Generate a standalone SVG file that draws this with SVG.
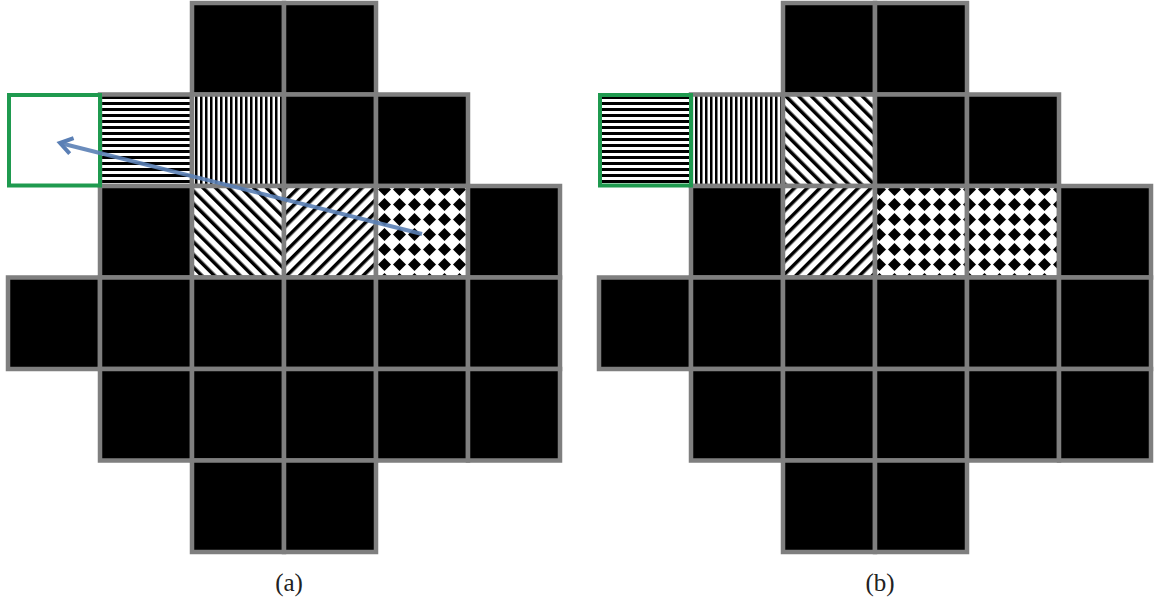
<svg xmlns="http://www.w3.org/2000/svg" width="1155" height="604" viewBox="0 0 1155 604">
<style>
.c{stroke:#7f7f7f;stroke-width:4.5}
.k{fill:#000}
.g{stroke:#1f9a4f;stroke-width:4}
.lbl{font-family:"Liberation Serif",serif;font-size:25px;fill:#222;text-anchor:middle}
</style>
<defs>
<pattern id="ph" patternUnits="userSpaceOnUse" width="6" height="6"><rect width="6" height="6" fill="#fff"/><rect width="6" height="3" fill="#000"/></pattern>
<pattern id="pv" patternUnits="userSpaceOnUse" width="5" height="5"><rect width="5" height="5" fill="#fff"/><rect width="2.5" height="5" fill="#000"/></pattern>
<pattern id="pb" patternUnits="userSpaceOnUse" width="9" height="9" patternTransform="rotate(-45)"><rect width="9" height="9" fill="#fff"/><rect width="3.5" height="9" fill="#000"/></pattern>
<pattern id="pf" patternUnits="userSpaceOnUse" width="9" height="9" patternTransform="rotate(45)"><rect width="9" height="9" fill="#fff"/><rect width="3.5" height="9" fill="#000"/></pattern>
<pattern id="pd" patternUnits="userSpaceOnUse" width="15" height="15" x="2" y="2"><rect width="15" height="15" fill="#fff"/><polygon points="7.5,1 14,7.5 7.5,14 1,7.5" fill="#000"/></pattern>
<marker id="ah" markerUnits="userSpaceOnUse" markerWidth="24" markerHeight="24" refX="18" refY="12" orient="auto"><path d="M6,4 L18,12 L6,20" fill="none" stroke="#5a7fb5" stroke-width="4"/></marker>
</defs>
<g id="gridA">
<rect class="c k" x="192" y="3" width="92" height="91.5"/>
<rect class="c k" x="284" y="3" width="92" height="91.5"/>
<rect class="c" fill="url(#ph)" x="100" y="94.5" width="92" height="91.5"/>
<rect class="c" fill="url(#pv)" x="192" y="94.5" width="92" height="91.5"/>
<rect class="c k" x="284" y="94.5" width="92" height="91.5"/>
<rect class="c k" x="376" y="94.5" width="92" height="91.5"/>
<rect class="c k" x="100" y="186" width="92" height="91.5"/>
<rect class="c" fill="url(#pb)" x="192" y="186" width="92" height="91.5"/>
<rect class="c" fill="url(#pf)" x="284" y="186" width="92" height="91.5"/>
<rect class="c" fill="url(#pd)" x="376" y="186" width="92" height="91.5"/>
<rect class="c k" x="468" y="186" width="92" height="91.5"/>
<rect class="c k" x="8" y="277.5" width="92" height="91.5"/>
<rect class="c k" x="100" y="277.5" width="92" height="91.5"/>
<rect class="c k" x="192" y="277.5" width="92" height="91.5"/>
<rect class="c k" x="284" y="277.5" width="92" height="91.5"/>
<rect class="c k" x="376" y="277.5" width="92" height="91.5"/>
<rect class="c k" x="468" y="277.5" width="92" height="91.5"/>
<rect class="c k" x="100" y="369" width="92" height="91.5"/>
<rect class="c k" x="192" y="369" width="92" height="91.5"/>
<rect class="c k" x="284" y="369" width="92" height="91.5"/>
<rect class="c k" x="376" y="369" width="92" height="91.5"/>
<rect class="c k" x="468" y="369" width="92" height="91.5"/>
<rect class="c k" x="192" y="460.5" width="92" height="91.5"/>
<rect class="c k" x="284" y="460.5" width="92" height="91.5"/>
<rect class="g" fill="#fff" x="9" y="95" width="91" height="90.5"/>
</g>
<g id="gridB">
<rect class="c k" x="783" y="3" width="92" height="91.5"/>
<rect class="c k" x="875" y="3" width="92" height="91.5"/>
<rect class="c" fill="url(#pv)" x="691" y="94.5" width="92" height="91.5"/>
<rect class="c" fill="url(#pb)" x="783" y="94.5" width="92" height="91.5"/>
<rect class="c k" x="875" y="94.5" width="92" height="91.5"/>
<rect class="c k" x="967" y="94.5" width="92" height="91.5"/>
<rect class="c k" x="691" y="186" width="92" height="91.5"/>
<rect class="c" fill="url(#pf)" x="783" y="186" width="92" height="91.5"/>
<rect class="c" fill="url(#pd)" x="875" y="186" width="92" height="91.5"/>
<rect class="c" fill="url(#pd)" x="967" y="186" width="92" height="91.5"/>
<rect class="c k" x="1059" y="186" width="92" height="91.5"/>
<rect class="c k" x="599" y="277.5" width="92" height="91.5"/>
<rect class="c k" x="691" y="277.5" width="92" height="91.5"/>
<rect class="c k" x="783" y="277.5" width="92" height="91.5"/>
<rect class="c k" x="875" y="277.5" width="92" height="91.5"/>
<rect class="c k" x="967" y="277.5" width="92" height="91.5"/>
<rect class="c k" x="1059" y="277.5" width="92" height="91.5"/>
<rect class="c k" x="691" y="369" width="92" height="91.5"/>
<rect class="c k" x="783" y="369" width="92" height="91.5"/>
<rect class="c k" x="875" y="369" width="92" height="91.5"/>
<rect class="c k" x="967" y="369" width="92" height="91.5"/>
<rect class="c k" x="1059" y="369" width="92" height="91.5"/>
<rect class="c k" x="783" y="460.5" width="92" height="91.5"/>
<rect class="c k" x="875" y="460.5" width="92" height="91.5"/>
<rect class="g" fill="url(#ph)" x="600" y="95" width="91" height="90.5"/>
</g>
<g id="connectors">
<line x1="422" y1="234" x2="60" y2="143" stroke="#5a7fb5" stroke-opacity="0.9" stroke-width="4" marker-end="url(#ah)"/>
</g>
<text class="lbl" x="289" y="591">(a)</text>
<text class="lbl" x="880" y="591">(b)</text>
</svg>
